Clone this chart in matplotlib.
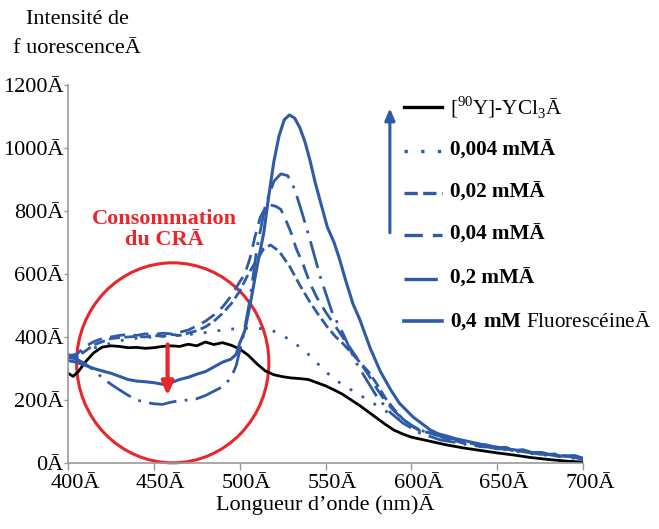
import matplotlib
matplotlib.use("Agg")
import matplotlib.pyplot as plt
from matplotlib.lines import Line2D
from matplotlib.patches import Ellipse
from matplotlib.transforms import ScaledTranslation

plt.rcParams['font.family'] = ['Liberation Serif', 'DejaVu Serif']
plt.rcParams['mathtext.fontset'] = 'custom'
plt.rcParams['mathtext.rm'] = 'Liberation Serif'
plt.rcParams['mathtext.bf'] = 'Liberation Serif:bold'

BLUE = "#2f5aa8"
RED = "#e8262b"
FS = 16

# ------------------------------------------------
# SPECTRA (wavelength in nm, intensity in a.u.)
# ------------------------------------------------
wl_ycl3 = [400, 403, 406, 410, 415, 420, 425, 430, 435, 440, 445, 450, 455, 460, 465,
           470, 475, 480, 485, 490, 495, 500, 505, 510, 515, 520, 525, 530, 535, 540,
           545, 550, 555, 560, 565, 570, 575, 580, 585, 590, 595, 600, 605, 610, 620,
           630, 640, 650, 660, 670, 680, 690, 700]
i_ycl3 = [285, 275, 290, 320, 350, 368, 372, 370, 366, 367, 364, 366, 370, 372, 370,
          377, 372, 384, 376, 382, 374, 362, 342, 315, 292, 280, 274, 270, 268, 265,
          255, 245, 232, 218, 200, 182, 162, 142, 122, 104, 92, 82, 76, 70, 58,
          48, 40, 32, 25, 17, 11, 6, 3]

wl_004 = [400, 405, 410, 415, 420, 425, 430, 435, 440, 445, 450, 455, 460, 465, 470,
          475, 480, 485, 490, 495, 500, 505, 510, 515, 520, 525, 530, 535, 540, 545,
          550, 555, 560, 565, 570, 575, 580, 585, 590, 595, 600, 605, 610, 620, 630,
          640, 650, 660, 670, 680, 690, 700]
i_004 = [335, 345, 355, 365, 372, 380, 388, 392, 396, 398, 400, 402, 404, 405, 408,
         410, 414, 418, 422, 425, 427, 428, 428, 425, 418, 405, 388, 368, 345, 318,
         290, 268, 248, 232, 215, 200, 182, 165, 148, 132, 118, 105, 96, 80, 66,
         56, 46, 38, 30, 24, 18, 12]

wl_02 = [400, 405, 410, 415, 420, 425, 430, 435, 440, 445, 450, 455, 460, 465, 470,
         475, 480, 485, 490, 495, 500, 505, 510, 514, 518, 523, 529, 535, 541, 546,
         551, 556, 560, 565, 570, 575, 580, 585, 590, 595, 600, 605, 611, 620, 625,
         630, 635, 640, 645, 650, 655, 660, 665, 670, 675, 680, 685, 690, 695, 700]
i_02 = [345, 335, 355, 375, 385, 395, 398, 400, 402, 400, 405, 402, 408, 405, 412,
        420, 432, 450, 475, 505, 545, 600, 645, 680, 692, 672, 625, 565, 510, 470,
        432, 400, 380, 350, 320, 290, 250, 205, 170, 140, 118, 102, 95, 78, 72,
        63, 62, 55, 54, 48, 46, 40, 41, 33, 34, 27, 26, 22, 21, 16]

wl_04 = [400, 405, 410, 415, 420, 425, 430, 435, 440, 445, 450, 455, 460, 465, 470,
         475, 480, 485, 490, 495, 500, 503, 506, 509, 512, 515, 518, 521, 524, 527,
         530, 533, 537, 541, 545, 550, 555, 560, 565, 570, 575, 580, 585, 590, 595,
         600, 605, 611, 620, 625, 630, 635, 640, 645, 650, 655, 660, 665, 670, 675,
         680, 685, 690, 695, 700]
i_04 = [340, 345, 370, 385, 395, 400, 405, 408, 405, 410, 408, 412, 410, 415, 422,
        435, 450, 470, 495, 530, 575, 600, 650, 720, 780, 810, 819, 815, 805, 770,
        730, 680, 630, 570, 525, 480, 440, 400, 360, 320, 280, 235, 195, 165, 140,
        120, 105, 95, 80, 76, 65, 66, 56, 58, 48, 50, 40, 42, 34, 35,
        28, 29, 22, 24, 16]

wl_2 = [400, 405, 410, 415, 420, 425, 430, 435, 440, 445, 450, 455, 460, 465, 470,
        475, 480, 485, 490, 495, 498, 502, 506, 510, 515, 520, 524, 528, 532, 536,
        541, 547, 554, 560, 568, 574, 580, 588, 595, 605, 617, 625, 630, 635, 640,
        645, 650, 655, 660, 665, 670, 675, 680, 685, 690, 695, 700]
i_2 = [335, 330, 315, 295, 270, 250, 232, 215, 200, 193, 188, 186, 193, 198, 200,
       204, 214, 228, 242, 270, 310, 400, 520, 680, 820, 895, 918, 912, 870, 800,
       708, 590, 476, 413, 317, 263, 210, 159, 127, 95, 73, 66, 60, 58, 52,
       50, 45, 44, 38, 38, 32, 31, 26, 25, 20, 20, 15]

wl_fluo = [400, 405, 410, 415, 420, 425, 430, 435, 440, 445, 450, 455, 460, 465, 470,
           475, 480, 485, 490, 495, 498, 500, 503, 506, 510, 514, 517, 520, 523, 526,
           529, 532, 535, 538, 541, 544, 548, 551, 555, 558, 562, 566, 570, 576, 582,
           588, 593, 601, 611, 616, 621, 625, 630, 635, 640, 645, 650, 655, 660, 665,
           670, 675, 680, 685, 690, 695, 700]
i_fluo = [325, 320, 310, 300, 292, 285, 275, 265, 260, 258, 255, 250, 255, 265, 272,
          282, 290, 305, 320, 330, 345, 380, 420, 500, 620, 730, 850, 960, 1040, 1090,
          1105, 1095, 1065, 1020, 960, 890, 810, 750, 700, 650, 575, 505, 455, 365, 290,
          232, 190, 146, 105, 92, 85, 78, 72, 66, 60, 55, 50, 44, 42, 36,
          33, 28, 27, 22, 22, 18, 12]

labels = [
    r"[$^{90}$Y]-YCl$_{3}$Ā",
    "0,004 mMĀ",
    "0,02 mMĀ",
    "0,04 mMĀ",
    "0,2 mMĀ",
    r"$\mathbf{0{,}4\ mM}$ FluorescéineĀ",
]
label_bold = [False, True, True, True, True, False]

x_ticks = [400, 450, 500, 550, 600, 650, 700]
y_ticks = [0, 200, 400, 600, 800, 1000, 1200]


# ------------------------------------------------
# PLOT
# ------------------------------------------------
fig = plt.figure(figsize=(6.59, 5.29), dpi=100)
ax = fig.add_axes([0.1032, 0.1248, 0.7815, 0.7145])

series = [
    (wl_ycl3, i_ycl3, "black", "-", 2.0),
    (wl_004, i_004, BLUE, (0, (1, 4)), 2.0),
    (wl_02, i_02, BLUE, (0, (4, 1.6)), 2.0),
    (wl_04, i_04, BLUE, (0, (5.5, 3)), 2.0),
    (wl_2, i_2, BLUE, (0, (10, 3, 1, 3)), 2.0),
    (wl_fluo, i_fluo, BLUE, "-", 2.2),
]

for wl, inten, color, ls, lw in series:
    ax.plot(wl, inten, color=color, linestyle=ls, linewidth=lw)

ax.set_xlim(400, 700)
ax.set_ylim(0, 1200)
ax.set_xticks(x_ticks)
ax.set_xticklabels([f"{t}Ā" for t in x_ticks])
ax.set_yticks(y_ticks)
ax.set_yticklabels([f"{t}Ā" for t in y_ticks])
ax.tick_params(labelsize=FS, color="#999999", width=1)
ax.tick_params(axis="x", length=5, pad=3)
ax.tick_params(axis="y", length=3, pad=0)

# shift x tick labels a little to the right
shift = ScaledTranslation(7 / 100, 0, fig.dpi_scale_trans)
for lab in ax.get_xticklabels():
    lab.set_transform(lab.get_transform() + shift)

for side in ["top", "right"]:
    ax.spines[side].set_visible(False)
for side in ["left", "bottom"]:
    ax.spines[side].set_color("#999999")
    ax.spines[side].set_linewidth(1.2)

ax.set_xlabel("Longueur d’onde (nm)Ā", fontsize=FS, labelpad=1)

fig.text(0.117, 0.963, "Intensité de", fontsize=FS, ha="center", va="center")
fig.text(0.117, 0.908, "f uorescenceĀ", fontsize=FS, ha="center", va="center")

# ----- annotations -----
ax.add_patch(Ellipse((461, 318), 112, 635, fill=False, edgecolor=RED,
                     linewidth=2.2, clip_on=False))
ax.annotate("", xy=(458, 205), xytext=(458, 385),
            arrowprops=dict(arrowstyle="-|>,head_length=0.8,head_width=0.35",
                            color=RED, lw=3))
ax.text(456, 742, "Consommation\ndu CRĀ", color=RED, fontsize=FS,
        fontweight="bold", ha="center", va="center", linespacing=1.1)

ax.annotate("", xy=(587.5, 1135), xytext=(587.5, 722),
            arrowprops=dict(arrowstyle="-|>,head_length=0.7,head_width=0.3",
                            color=BLUE, lw=2.2))

# ----- legend -----
row_y = [107, 151, 193, 235, 279, 321]
W, H = 659.0, 529.0
for (wl, inten, color, ls, lw), lab, bold, py in zip(series, labels, label_bold, row_y):
    yf = 1 - py / H
    fig.add_artist(Line2D([404 / W, 442 / W], [yf, yf], color=color,
                          linestyle=ls, linewidth=lw + 0.4))
    fig.text(450 / W, yf, lab, fontsize=15.2, va="center", ha="left",
             fontweight="bold" if bold else "normal")

fig.savefig("out.png", dpi=100)
